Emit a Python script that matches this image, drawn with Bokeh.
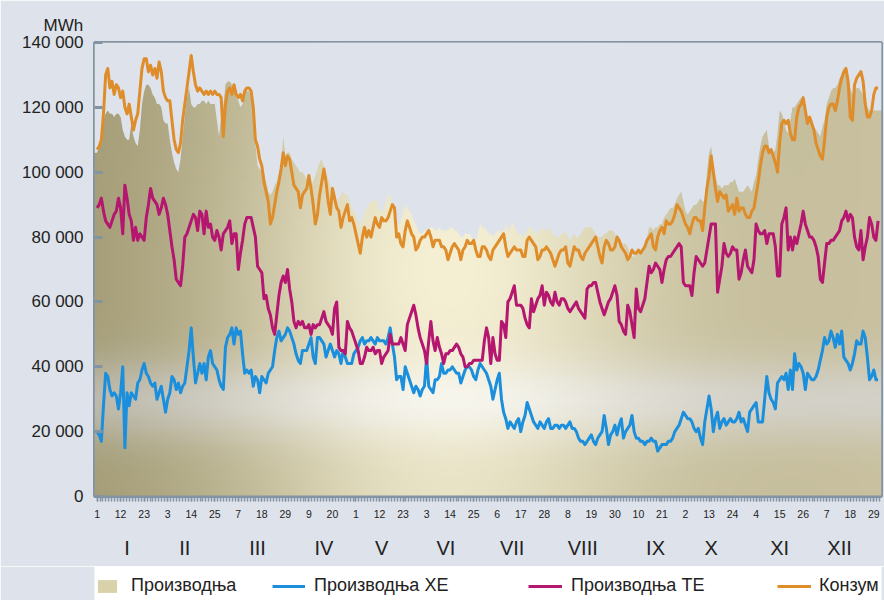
import numpy as np
from bokeh.plotting import figure
from bokeh.layouts import column
from bokeh.models import (Range1d, FixedTicker, LinearAxis, Legend, LegendItem,
                          ColumnDataSource)
from bokeh.embed import file_html
from bokeh.resources import INLINE

# ---- daily values, in thousands of MWh (leap year, 366 days) ----
konzum = [
    107,108,110,118,130,132,126,128,124,127,126,123,125,120,118,121,117,113,116,118,125,132,135,135,131,133,130,132,129,134,131,
    125,123,122,122,116,110,107,106,109,116,121,126,131,136,131,127,125,126,125,124,125,124,125,124,125,124,124,123,111,
    121,125,126,124,127,124,123,124,122,125,126,126,125,120,110,108,104,102,97,94,91,84,86,90,94,97,101,106,102,105,104,
    100,96,95,94,89,93,94,95,99,95,90,84,87,93,97,101,97,91,87,95,92,89,88,83,86,88,90,85,86,84,
    81,78,75,80,83,80,82,80,83,86,84,83,86,85,85,86,88,90,89,80,81,78,77,82,85,83,81,80,76,77,79,
    80,80,81,82,80,77,79,79,79,77,77,76,73,75,77,78,77,76,73,76,77,79,78,78,79,76,74,74,77,77,
    76,74,73,76,77,78,79,80,81,77,74,75,76,77,76,76,76,74,74,79,80,79,78,77,73,74,76,76,77,76,75,
    73,71,73,75,76,76,77,72,71,74,77,76,76,74,73,75,76,77,78,79,80,77,74,72,77,79,78,76,76,77,80,
    79,77,76,75,73,74,76,75,75,76,75,76,77,79,80,81,77,76,80,82,83,81,85,84,84,85,87,90,89,88,
    86,84,83,81,84,86,86,85,85,82,89,95,99,105,100,95,91,94,93,92,93,88,89,90,87,92,88,89,89,87,86,
    86,88,89,93,97,102,106,108,108,106,107,105,103,100,109,115,116,115,116,112,110,110,117,120,121,123,119,115,117,115,
    113,109,107,105,104,110,117,120,121,121,119,122,126,129,131,132,128,117,116,127,129,130,131,128,121,117,117,119,124,126,126,
]
proizvodnja = [
    106,108,110,116,118,119,118,118,117,118,118,117,113,111,110,110,115,111,109,108,113,121,125,127,127,126,124,123,121,121,120,
    116,115,115,110,106,103,101,100,104,111,117,123,126,121,120,120,121,121,122,122,121,122,121,121,121,116,111,117,120,
    127,128,128,127,126,123,122,120,121,125,125,125,123,121,109,102,101,100,100,97,94,93,94,96,97,100,102,111,105,106,106,
    104,103,102,101,100,100,99,98,97,96,97,99,101,103,104,102,100,98,96,95,93,91,92,93,94,93,93,91,89,88,
    87,85,83,85,87,89,90,91,91,92,91,88,88,89,91,93,93,90,88,86,83,85,88,90,89,88,87,85,84,82,81,
    81,82,82,82,83,83,82,82,83,82,82,82,82,83,83,82,82,81,80,80,81,81,81,80,79,79,81,84,83,83,
    82,81,81,80,81,82,82,81,82,84,82,83,85,83,82,81,81,80,81,82,83,83,82,81,81,82,83,82,82,83,82,
    81,80,80,80,81,81,82,80,79,80,81,80,80,81,82,83,83,83,83,82,81,80,80,80,81,81,82,82,82,81,79,
    79,78,78,78,77,75,74,74,75,76,76,77,78,80,83,83,82,83,83,84,84,86,87,88,89,89,90,92,93,94,
    91,88,87,88,89,90,90,91,92,91,91,100,106,108,103,99,96,96,95,96,96,96,97,97,98,96,94,94,94,95,96,
    95,94,97,99,104,108,111,112,113,108,106,106,107,112,119,118,116,113,112,116,120,120,121,122,123,121,119,117,116,115,
    114,113,112,111,114,116,121,123,125,126,126,127,129,130,131,130,129,126,124,125,126,126,125,124,122,120,119,119,119,119,119,
]
proizvodnja_he = [
    20,19,17,28,38,37,33,31,32,31,27,32,40,15,32,28,32,31,30,35,36,39,41,38,37,35,34,35,30,32,34,
    30,26,30,32,37,36,33,35,32,34,35,40,45,52,43,35,38,41,38,41,36,43,45,41,40,39,36,34,33,
    46,49,50,52,47,52,50,51,44,38,39,38,39,34,37,36,32,37,36,35,38,39,40,45,49,51,48,49,50,52,51,
    49,47,44,42,41,45,45,45,47,49,43,41,49,49,48,47,43,45,47,45,43,45,44,41,45,43,41,41,41,44,
    45,46,48,49,47,48,48,49,48,47,49,48,48,48,47,49,52,47,43,36,37,37,33,40,38,36,34,32,34,33,31,
    33,34,43,34,33,32,36,36,37,41,38,38,39,39,40,39,38,38,35,37,39,40,40,39,37,36,39,41,40,39,
    38,36,34,30,33,36,38,30,26,24,21,23,22,21,23,24,20,23,25,29,27,25,23,22,21,23,22,21,23,24,21,
    21,22,22,21,22,22,21,22,23,21,21,20,18,17,17,16,17,18,19,17,16,18,19,20,25,21,16,19,20,22,19,
    22,24,18,20,21,22,25,20,18,18,17,17,16,17,17,18,17,17,14,15,16,16,16,17,17,18,20,21,22,24,
    26,25,24,24,23,21,20,21,18,16,23,27,31,27,20,24,26,21,23,24,22,23,24,23,23,24,26,23,24,22,20,
    26,27,28,29,23,23,23,30,37,32,30,29,27,35,36,37,36,38,33,39,33,44,39,41,40,38,33,38,37,36,
    36,37,39,42,45,49,47,48,51,49,46,50,47,51,43,42,41,39,41,44,48,47,47,51,49,43,36,37,39,36,36,
]
proizvodnja_te = [
    89,90,92,88,85,84,83,85,87,88,92,89,81,96,92,87,85,79,83,79,81,80,79,86,90,95,92,91,90,87,89,
    92,90,87,82,77,73,67,66,65,71,80,81,83,85,87,86,82,88,87,81,88,83,84,80,79,82,80,76,81,
    82,83,85,78,81,81,70,75,79,84,86,86,86,83,80,71,70,69,61,62,58,56,52,50,56,62,66,68,66,70,64,
    60,54,52,54,53,54,52,52,53,50,53,52,53,53,55,57,54,53,52,50,58,60,46,45,45,44,54,52,51,49,
    47,45,41,41,43,46,45,45,46,44,45,45,41,43,44,45,50,47,47,47,47,49,47,45,53,55,57,59,56,52,49,
    47,45,41,48,54,48,45,49,46,44,41,44,44,45,45,46,47,46,44,43,40,40,41,41,42,42,42,42,42,48,
    52,49,41,49,44,42,42,54,53,49,60,61,63,65,59,59,59,58,55,53,52,61,57,59,61,62,65,59,63,62,60,
    59,63,60,59,61,61,60,58,57,58,59,60,58,57,56,55,64,65,65,66,66,63,60,58,56,58,60,61,63,65,62,
    54,53,51,50,59,57,53,49,64,58,57,59,61,66,71,69,70,72,71,70,66,70,73,74,74,75,76,77,78,77,
    66,65,65,65,62,69,74,73,72,71,72,76,80,84,84,84,63,67,71,78,75,74,75,77,76,76,67,69,73,76,71,
    70,69,73,84,82,81,81,82,78,81,81,81,77,68,68,84,86,89,76,80,76,80,78,81,84,88,84,82,80,80,
    79,77,74,67,66,72,78,78,79,79,80,81,82,85,86,88,85,87,86,80,77,76,82,73,77,80,86,84,80,79,85,
]

day_ticks = list(range(1, 365, 11))
day_labels = ["1", "12", "23", "3", "14", "25", "7", "18", "29", "9", "20",
              "1", "12", "23", "3", "14", "25", "6", "17", "28", "8", "19", "30",
              "10", "21", "2", "13", "24", "4", "15", "26", "7", "18", "29"]
month_pos = [15, 42, 76, 107, 134, 164, 195, 228, 262, 288, 320, 348]
month_labels = ["I", "II", "III", "IV", "V", "VI", "VII", "VIII", "IX", "X", "XI", "XII"]
y_ticks = [0, 20000, 40000, 60000, 80000, 100000, 120000, 140000]
y_labels = ["0", "20 000", "40 000", "60 000", "80 000", "100 000", "120 000", "140 000"]
series_names = ["Производња", "Производња ХЕ", "Производња ТЕ", "Конзум"]

assert len(konzum) == 366 and len(proizvodnja) == 366
assert len(proizvodnja_he) == 366 and len(proizvodnja_te) == 366

# ---- styling ----
BG = "#dee2ea"
AXC = "#8294a4"
TXT = "#222222"
FONT = "Liberation Sans"
C_PROD_FILL = "#d8d1aa"
C_HE = "#1b8fdc"
C_TE = "#b5166f"
C_KO = "#de8d2a"

X0, X1 = -0.2, 367.6
Y_TOP = 140000

days = list(range(1, 367))
src = ColumnDataSource(dict(
    day=days,
    zero=[0] * 366,
    konzum=[v * 1000 for v in konzum],
    prod=[v * 1000 for v in proizvodnja],
    he=[v * 1000 for v in proizvodnja_he],
    te=[v * 1000 for v in proizvodnja_te],
))

p = figure(width=884, height=566, output_backend="svg", toolbar_location=None,
           x_range=Range1d(X0, X1), y_range=Range1d(0, Y_TOP),
           min_border_left=94, min_border_right=3, min_border_top=42, min_border_bottom=70)
p.background_fill_color = BG
p.border_fill_color = BG
p.outline_line_color = AXC
p.outline_line_width = 3
p.xgrid.visible = False
p.ygrid.visible = False

p.title.text = "MWh"
p.title.align = "left"
p.title.offset = -51
p.title.standoff = 16
p.title.text_font = FONT
p.title.text_font_size = "17px"
p.title.text_font_style = "normal"
p.title.text_color = TXT

# ---- decorative gradient behind the production area ----
H, W = 140, 260
u = np.linspace(0, 1, W)[None, :]
t = np.linspace(0, 1, H)[:, None]
olive_l = np.array([162, 154, 116], dtype=float)
olive_r = np.array([200, 192, 158], dtype=float)
cream = np.array([245, 240, 212], dtype=float)
olive = olive_l * (1 - u[..., None]) + olive_r * u[..., None]
g = np.exp(-((u - 0.45) / 0.27) ** 2) * (0.8 + 0.2 * np.exp(-((t - 0.5) / 0.3) ** 2))
base = olive * (1 - g[..., None]) + cream * g[..., None]
edge = np.array([190, 189, 184.0]) * (1 - u[..., None]) + np.array([214, 214, 213.0]) * u[..., None]
gb = np.exp(-((u - 0.45) / 0.3) ** 2)
band = edge * (1 - gb[..., None]) + np.array([250, 250, 248.0]) * gb[..., None]
ab = 0.75 * np.exp(-((t - 0.21) / 0.09) ** 2)
col = base * (1 - ab[..., None]) + band * ab[..., None]
rgba = np.zeros((H, W, 4), dtype=np.uint8)
rgba[..., :3] = np.clip(col, 0, 255).astype(np.uint8)
rgba[..., 3] = 255
img = rgba.view(np.uint32).reshape(H, W)
p.image_rgba(image=[img], x=X0, y=0, dw=X1 - X0, dh=Y_TOP)

# mask above the production curve (so the gradient shows only inside the area)
mask_x = [X0] + days + [X1]
mask_y = [proizvodnja[0] * 1000] + [v * 1000 for v in proizvodnja] + [proizvodnja[-1] * 1000]
p.varea(x=mask_x, y1=mask_y, y2=[Y_TOP] * len(mask_x), fill_color=BG, fill_alpha=1)

p.line("day", "he", source=src, line_color=C_HE, line_width=3, line_join="round")
p.line("day", "te", source=src, line_color=C_TE, line_width=3, line_join="round")
p.line("day", "konzum", source=src, line_color=C_KO, line_width=3, line_join="round")

# ---- axes ----
xa = p.xaxis[0]
xa.ticker = FixedTicker(ticks=day_ticks, minor_ticks=list(np.arange(-0.375, 368, 1.375)))
xa.major_label_overrides = {d: s for d, s in zip(day_ticks, day_labels)}
xa.axis_line_color = AXC
xa.axis_line_width = 2
xa.major_tick_line_color = AXC
xa.minor_tick_line_color = AXC
xa.major_tick_line_width = 1.5
xa.minor_tick_line_width = 1.5
xa.major_tick_in = 0
xa.major_tick_out = 5
xa.minor_tick_in = 0
xa.minor_tick_out = 5
xa.major_label_standoff = 8
xa.major_label_text_font = FONT
xa.major_label_text_font_size = "10.5px"
xa.major_label_text_color = TXT

ma = LinearAxis(ticker=FixedTicker(ticks=month_pos),
                major_label_overrides={d: s for d, s in zip(month_pos, month_labels)})
ma.axis_line_color = None
ma.major_tick_line_color = None
ma.minor_tick_line_color = None
ma.major_label_standoff = 10
ma.major_label_text_font = FONT
ma.major_label_text_font_size = "20px"
ma.major_label_text_color = TXT
p.add_layout(ma, "below")

ya = p.yaxis[0]
ya.ticker = FixedTicker(ticks=y_ticks, minor_ticks=[])
ya.major_label_overrides = {v: s for v, s in zip(y_ticks, y_labels)}
ya.axis_line_color = None
ya.major_tick_line_color = AXC
ya.major_tick_line_width = 3
ya.major_tick_in = 8
ya.major_tick_out = 0
ya.minor_tick_line_color = None
ya.major_label_standoff = 11
ya.major_label_text_font = FONT
ya.major_label_text_font_size = "17px"
ya.major_label_text_color = TXT

# ---- legend strip (separate small figure so nothing is clipped) ----
leg = figure(width=884, height=34, output_backend="svg", toolbar_location=None,
             x_axis_location=None, y_axis_location=None,
             x_range=Range1d(X0, X1), y_range=Range1d(0, Y_TOP), min_border=0)
leg.background_fill_color = None
leg.border_fill_color = BG
leg.outline_line_color = None
leg.xgrid.visible = False
leg.ygrid.visible = False

# hidden renderers that only provide the legend swatches
d_prod = leg.varea(x="day", y1="zero", y2="prod", source=src, fill_color=C_PROD_FILL, visible=False)
d_he = leg.line("day", "he", source=src, line_color=C_HE, line_width=3, visible=False)
d_te = leg.line("day", "te", source=src, line_color=C_TE, line_width=3, visible=False)
d_ko = leg.line("day", "konzum", source=src, line_color=C_KO, line_width=3, visible=False)

def add_legend(label, rend, xpos, gw, gh, standoff):
    lg = Legend(items=[LegendItem(label=label, renderers=[rend])], location=(xpos, 4),
                orientation="horizontal", glyph_width=gw, glyph_height=gh,
                label_standoff=standoff, padding=0, margin=0, spacing=0,
                border_line_color=None, background_fill_alpha=0,
                inactive_fill_alpha=0, click_policy="none",
                label_text_font=FONT, label_text_font_size="18px", label_text_color=TXT)
    leg.add_layout(lg)

add_legend(series_names[0], d_prod, 1, 24, 16, 12)
add_legend(series_names[1], d_he, 178, 33, 16, 9)
add_legend(series_names[2], d_te, 434, 34, 16, 9)
add_legend(series_names[3], d_ko, 683, 34, 16, 8)

page = column(p, leg, spacing=0)
open("out.html", "w").write(file_html(page, INLINE))
